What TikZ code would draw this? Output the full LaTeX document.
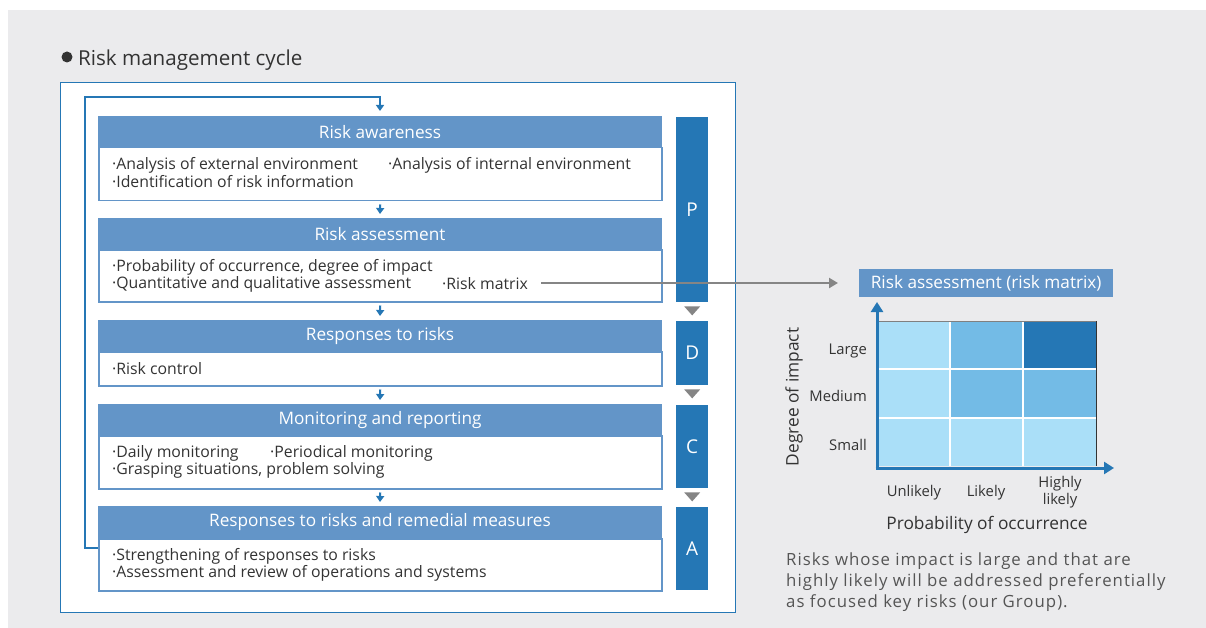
\documentclass[tikz,border=0pt]{standalone}
\usepackage{fontspec}
\setmainfont{Open Sans}
\newfontfamily\spacedfont[LetterSpace=6]{Open Sans}
\usetikzlibrary{arrows.meta,calc}
\definecolor{bgc}{HTML}{EBEBED}
\definecolor{hdr}{HTML}{6395C8}
\definecolor{dblue}{HTML}{2577B5}
\definecolor{lblue}{HTML}{AADFF8}
\definecolor{mblue}{HTML}{73BBE6}
\definecolor{txt}{HTML}{333333}
\definecolor{ptxt}{HTML}{555555}
\definecolor{arrgray}{HTML}{858585}
\begin{document}
\begin{tikzpicture}[x=1pt,y=-1pt,
  hdrbox/.style={fill=hdr, draw=hdr, line width=1pt, text=white, font=\fontsize{17.2}{19}\selectfont, minimum width=563pt, minimum height=31pt, anchor=north west, inner sep=0pt},
  bodybox/.style={fill=white, draw=hdr, line width=1.5pt, minimum width=563pt, anchor=north west, inner sep=0pt},
  itm/.style={anchor=west, inner sep=0pt, text=txt, font=\fontsize{15.8}{17}\selectfont},
  pdca/.style={fill=dblue, text=white, minimum width=32pt, anchor=north west, inner sep=0pt, font=\fontsize{19}{20}\selectfont},
  flowarr/.style={draw=dblue, line width=2pt, -{Triangle[width=8pt,length=6pt]}},
  loopline/.style={draw=dblue, line width=2pt},
  grayarr/.style={draw=arrgray, line width=2.5pt, -{Triangle[width=10pt,length=9pt]}},
  tri/.style={fill=arrgray},
  lbl/.style={inner sep=0pt, text=txt, font=\fontsize{14.8}{17}\selectfont},
  axlbl/.style={inner sep=0pt, text=txt, font=\fontsize{17.3}{19}\selectfont},
  axis/.style={draw=dblue, line width=3pt, -{Triangle[width=12pt,length=10pt]}}
]
\useasboundingbox (0,0) rectangle (1206,628);
\fill[bgc] (8,10) rectangle (1206,628);

% title
\fill[txt] (67,57) circle (5.5pt);
\node[anchor=west, inner sep=0pt, text=txt, font=\fontsize{20.6}{23}\selectfont] (title) at (78,60) {Risk management cycle};

% frame
\draw[dblue, line width=1pt, fill=white] (60,83) rectangle (735,612);

% boxes
\node[hdrbox] (h1) at (98,116) {Risk awareness};
\node[bodybox, minimum height=53pt] (b1) at (98,147) {};
\node[hdrbox] (h2) at (98,218) {Risk assessment};
\node[bodybox, minimum height=52pt] (b2) at (98,249) {};
\node[hdrbox] (h3) at (98,320) {Responses to risks};
\node[bodybox, minimum height=34pt] (b3) at (98,351) {};
\node[hdrbox] (h4) at (98,404) {Monitoring and reporting};
\node[bodybox, minimum height=53pt] (b4) at (98,435) {};
\node[hdrbox] (h5) at (98,506) {Responses to risks and remedial measures};
\node[bodybox, minimum height=52pt] (b5) at (98,538) {};

% items
\node[itm] (i11) at (112,165) {·Analysis of external environment};
\node[itm] (i12) at (388,165) {·Analysis of internal environment};
\node[itm] (i13) at (112,182) {·Identification of risk information};
\node[itm] (i21) at (112,267) {·Probability of occurrence, degree of impact};
\node[itm] (i22) at (112,284) {·Quantitative and qualitative assessment};
\node[itm] (rm) at (442,284) {·Risk matrix};
\node[itm] (i31) at (112,369) {·Risk control};
\node[itm] (i41) at (112,453) {·Daily monitoring};
\node[itm] (i42) at (270,453) {·Periodical monitoring};
\node[itm] (i43) at (112,470) {·Grasping situations, problem solving};
\node[itm] (i51) at (112,556) {·Strengthening of responses to risks};
\node[itm] (i52) at (112,573) {·Assessment and review of operations and systems};

% flow arrows
\draw[flowarr] ($(b1.south)+(0,3)$) -- ($(h2.north)+(0,-4)$);
\draw[flowarr] ($(b2.south)+(0,3)$) -- ($(h3.north)+(0,-4)$);
\draw[flowarr] ($(b3.south)+(0,3)$) -- ($(h4.north)+(0,-4)$);
\draw[flowarr] ($(b4.south)+(0,3)$) -- ($(h5.north)+(0,-4)$);

% feedback loop
\coordinate (lb) at (85,548);
\coordinate (lt) at (85,97);
\draw[loopline] (b5.west |- lb) -- (lb) -- (lt) -- (lt -| h1.north);
\draw[flowarr] ($(lt -| h1.north)+(0,-1)$) -- ($(h1.north)+(0,-5)$);

% PDCA
\node[pdca, minimum height=185pt] (P) at (676,117) {P};
\node[pdca, minimum height=64pt] (D) at (676,321) {D};
\node[pdca, minimum height=83pt] (C) at (676,405) {C};
\node[pdca, minimum height=83pt] (A) at (676,507) {A};
\fill[tri] ($(P.south)+(-8,4)$) -- ($(P.south)+(8,4)$) -- ($(P.south)+(0,13)$) -- cycle;
\fill[tri] ($(D.south)+(-8,4)$) -- ($(D.south)+(8,4)$) -- ($(D.south)+(0,13)$) -- cycle;
\fill[tri] ($(C.south)+(-8,4)$) -- ($(C.south)+(8,4)$) -- ($(C.south)+(0,13)$) -- cycle;

% matrix title
\node[fill=hdr, text=white, font=\fontsize{17.2}{19}\selectfont, minimum width=254pt, minimum height=28pt, inner sep=0pt, anchor=north west] (mt) at (859,269) {Risk assessment (risk matrix)};
\draw[grayarr] ($(rm.east)+(13,-1)$) -- ($(mt.west |- rm.east)+(-21,-1)$);

% matrix cells
\fill[lblue] (879,321) rectangle (950,369);
\fill[mblue] (950,321) rectangle (1023,369);
\fill[dblue] (1023,321) rectangle (1096,369);
\fill[lblue] (879,369) rectangle (950,418);
\fill[mblue] (950,369) rectangle (1023,418);
\fill[mblue] (1023,369) rectangle (1096,418);
\fill[lblue] (879,418) rectangle (950,466);
\fill[lblue] (950,418) rectangle (1023,466);
\fill[lblue] (1023,418) rectangle (1096,466);
\draw[white, line width=1.5pt] (950,321) -- (950,466) (1023,321) -- (1023,466) (879,369) -- (1096,369) (879,418) -- (1096,418);
\draw[gray, line width=1pt] (879,321) -- (1096,321);
\draw[black!80, line width=1pt] (1096,321) -- (1096,466);
\coordinate (org) at (877,468);
\draw[axis] (org) -- (877,302);
\draw[axis] ($(org)+(-1.5,0)$) -- (1114,468);

% matrix labels
\node[lbl, anchor=east] (lg) at (867,351) {Large};
\node[lbl, anchor=east] (md) at (867,396) {Medium};
\node[lbl, anchor=east] (sm) at (867,445) {Small};
\node[lbl] (ul) at (914,493) {Unlikely};
\node[lbl] (lk) at (986,493) {Likely};
\node[lbl, align=center] (hl) at (1060,492) {Highly\\likely};
\node[axlbl] (px) at (987,525) {Probability of occurrence};
\node[axlbl, rotate=90] (dy) at (794,397) {Degree of impact};

% paragraph
\node[anchor=north west, inner sep=0pt, text=ptxt, align=left, font=\spacedfont\fontsize{16.8}{21}\selectfont] (para) at (786,553) {Risks whose impact is large and that are\\highly likely will be addressed preferentially\\as focused key risks (our Group).};
\end{tikzpicture}
\end{document}
